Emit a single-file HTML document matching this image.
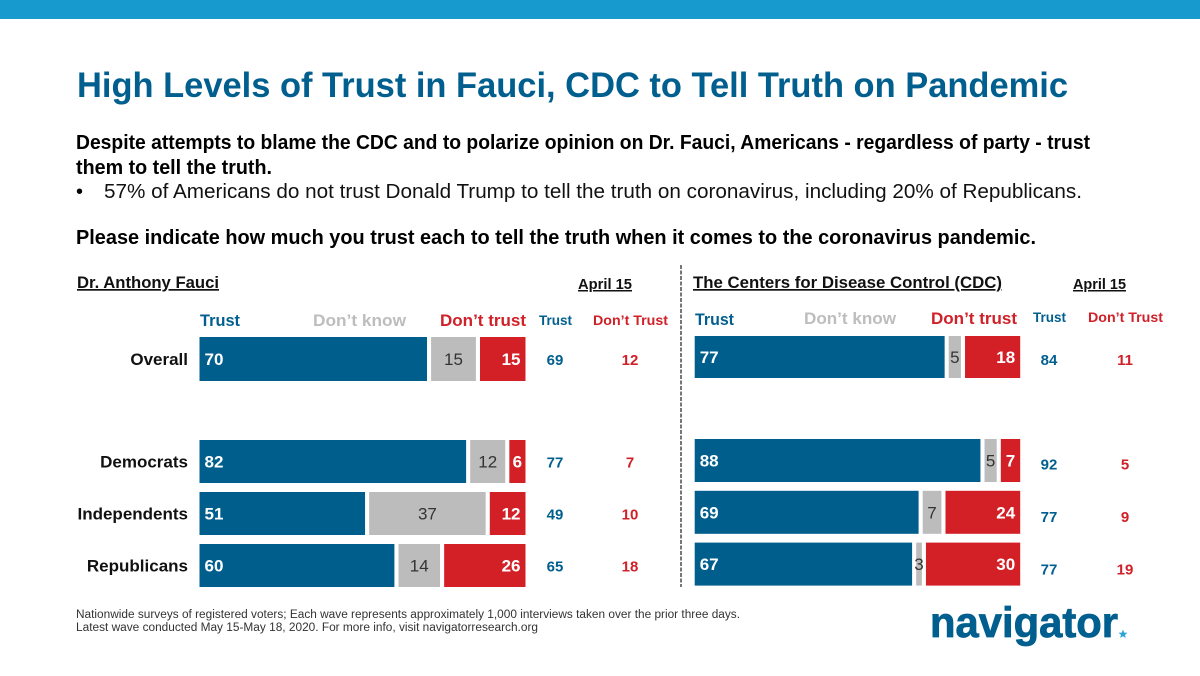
<!DOCTYPE html>
<html lang="en">
<head>
<meta charset="utf-8">
<title>High Levels of Trust in Fauci, CDC to Tell Truth on Pandemic</title>
<style>
html,body{margin:0;padding:0;background:#fff;width:1200px;height:676px;overflow:hidden}
svg{display:block;font-family:"Liberation Sans",sans-serif}
</style>
</head>
<body>
<svg id="chart" width="1200" height="676" viewBox="0 0 1200 676" xmlns="http://www.w3.org/2000/svg">
<rect x="0" y="0" width="1200" height="19" fill="#179ACD"/>
<text x="77" y="97" font-size="35" font-weight="700" fill="#005F8E" textLength="991" lengthAdjust="spacingAndGlyphs">High Levels of Trust in Fauci, CDC to Tell Truth on Pandemic</text>
<text x="76" y="149" font-size="20" font-weight="700" fill="#000" textLength="1014" lengthAdjust="spacingAndGlyphs">Despite attempts to blame the CDC and to polarize opinion on Dr. Fauci, Americans - regardless of party - trust</text>
<text x="76" y="174" font-size="20" font-weight="700" fill="#000" textLength="196" lengthAdjust="spacingAndGlyphs">them to tell the truth.</text>
<text x="76" y="198" font-size="20" fill="#000">•</text>
<text x="104" y="198" font-size="20" fill="#111" textLength="978" lengthAdjust="spacingAndGlyphs">57% of Americans do not trust Donald Trump to tell the truth on coronavirus, including 20% of Republicans.</text>
<text x="76" y="244" font-size="20" font-weight="700" fill="#000" textLength="960" lengthAdjust="spacingAndGlyphs">Please indicate how much you trust each to tell the truth when it comes to the coronavirus pandemic.</text>

<line x1="681" y1="265" x2="681" y2="587" stroke="#777" stroke-width="2" stroke-dasharray="4 1.5"/>

<text x="77" y="288" font-size="17" font-weight="700" fill="#111" text-decoration="underline" textLength="142" lengthAdjust="spacingAndGlyphs">Dr. Anthony Fauci</text>
<text x="578" y="289" font-size="15" font-weight="700" fill="#111" text-decoration="underline" textLength="54" lengthAdjust="spacingAndGlyphs">April 15</text>
<text x="200" y="326" font-size="17" font-weight="700" fill="#005F8E" textLength="40" lengthAdjust="spacingAndGlyphs">Trust</text>
<text x="313" y="326" font-size="17" font-weight="700" fill="#BDBDBD" textLength="93" lengthAdjust="spacingAndGlyphs">Don’t know</text>
<text x="440" y="326" font-size="17" font-weight="700" fill="#D02028" textLength="86" lengthAdjust="spacingAndGlyphs">Don’t trust</text>
<text x="539" y="325" font-size="14" font-weight="700" fill="#005F8E" textLength="33" lengthAdjust="spacingAndGlyphs">Trust</text>
<text x="593" y="325" font-size="14" font-weight="700" fill="#D02028" textLength="75" lengthAdjust="spacingAndGlyphs">Don’t Trust</text>

<text x="693" y="288" font-size="17" font-weight="700" fill="#111" text-decoration="underline" textLength="309" lengthAdjust="spacingAndGlyphs">The Centers for Disease Control (CDC)</text>
<text x="1073" y="289" font-size="15" font-weight="700" fill="#111" text-decoration="underline" textLength="53" lengthAdjust="spacingAndGlyphs">April 15</text>
<text x="695" y="325" font-size="17" font-weight="700" fill="#005F8E" textLength="39" lengthAdjust="spacingAndGlyphs">Trust</text>
<text x="804" y="324" font-size="17" font-weight="700" fill="#BDBDBD" textLength="92" lengthAdjust="spacingAndGlyphs">Don’t know</text>
<text x="931" y="324" font-size="17" font-weight="700" fill="#D02028" textLength="86" lengthAdjust="spacingAndGlyphs">Don’t trust</text>
<text x="1033" y="322" font-size="14" font-weight="700" fill="#005F8E" textLength="33" lengthAdjust="spacingAndGlyphs">Trust</text>
<text x="1088" y="322" font-size="14" font-weight="700" fill="#D02028" textLength="75" lengthAdjust="spacingAndGlyphs">Don’t Trust</text>

<g id="marks"></g>

<text x="76" y="618" font-size="11.5" fill="#333" textLength="664" lengthAdjust="spacingAndGlyphs">Nationwide surveys of registered voters; Each wave represents approximately 1,000 interviews taken over the prior three days.</text>
<text x="76" y="631" font-size="11.5" fill="#333" textLength="462" lengthAdjust="spacingAndGlyphs">Latest wave conducted May 15-May 18, 2020. For more info, visit navigatorresearch.org</text>
<text x="930" y="637" font-size="43" font-weight="700" fill="#005F8E" stroke="#005F8E" stroke-width="0.8" textLength="188" lengthAdjust="spacingAndGlyphs">navigator</text>
<polygon points="1123,629.5 1124.2,632.6 1127.5,632.8 1125,634.9 1125.8,638 1123,636.3 1120.2,638 1121,634.9 1118.5,632.8 1121.8,632.6" fill="#2BA6D6"/>
</svg>
<script>
const categories = ['Overall', 'Democrats', 'Independents', 'Republicans'];
const fauciTrust = [70, 82, 51, 60];
const fauciDontKnow = [15, 12, 37, 14];
const fauciDontTrust = [15, 6, 12, 26];
const fauciAprilTrust = [69, 77, 49, 65];
const fauciAprilDontTrust = [12, 7, 10, 18];
const cdcTrust = [77, 88, 69, 67];
const cdcDontKnow = [5, 5, 7, 3];
const cdcDontTrust = [18, 7, 24, 30];
const cdcAprilTrust = [84, 92, 77, 77];
const cdcAprilDontTrust = [11, 5, 9, 19];

const NS = 'http://www.w3.org/2000/svg';
const marks = document.getElementById('marks');
const BLUE = '#005E8C', GRAY = '#BCBCBC', RED = '#D32027';

function addRect(x, y, w, h, fill) {
  const el = document.createElementNS(NS, 'rect');
  el.setAttribute('x', x);
  el.setAttribute('y', y);
  el.setAttribute('width', Math.max(w, 0));
  el.setAttribute('height', h);
  el.setAttribute('fill', fill);
  marks.appendChild(el);
  return el;
}
function addText(str, x, y, size, weight, fill, anchor) {
  const el = document.createElementNS(NS, 'text');
  el.textContent = str;
  el.setAttribute('x', x);
  el.setAttribute('y', y);
  el.setAttribute('font-size', size);
  el.setAttribute('font-weight', weight);
  el.setAttribute('fill', fill);
  el.setAttribute('text-anchor', anchor);
  marks.appendChild(el);
  return el;
}
function drawPanel(prefix, p, trust, dontKnow, dontTrust, aprilTrust, aprilDontTrust) {
  const xScale = v => p.x0 + v * p.unit;
  const rowTop = i => i === 0 ? p.top0 : p.top1 + (i - 1) * p.step;
  const rowHeight = i => i === 0 ? p.h0 : p.h1;
  categories.forEach((cat, i) => {
    const top = rowTop(i), h = rowHeight(i), mid = top + h / 2;
    const a = trust[i], b = dontKnow[i], c = dontTrust[i];
    const textY = mid + 6;

    const blue = addRect(xScale(0), top, xScale(a) - 0.7 - xScale(0), h, BLUE);
    
    
    const gray = addRect(xScale(a) + 3.4, top, xScale(a + b) - 0.7 - xScale(a) - 3.4, h, GRAY);
    
    
    const red = addRect(xScale(a + b) + 3.4, top, xScale(a + b + c) - xScale(a + b) - 3.4, h, RED);
    
    

    const t1 = addText(String(a), xScale(0) + p.pad, textY, 17, 700, '#fff', 'start');
    
    
    const t2 = addText(String(b), (xScale(a) + 3.4 + xScale(a + b) - 0.7) / 2, textY, 17, 400, '#333', 'middle');
    
    
    const small = c < 10;
    const t3 = addText(String(c),
      small ? (xScale(a + b) + 3.4 + xScale(a + b + c)) / 2 : xScale(a + b + c) - 5,
      textY, 17, 700, '#fff', small ? 'middle' : 'end');
    
    

    const aprilY = mid + p.aprilShift + i * p.aprilDrift + 5;
    const t4 = addText(String(aprilTrust[i]), p.aprilTrustX, aprilY, 15, 700, '#005F8E', 'middle');
    
    
    const t5 = addText(String(aprilDontTrust[i]), p.aprilDontTrustX, aprilY, 15, 700, '#D02028', 'middle');
    
    

    if (p.showCategories) {
      const lab = addText(cat, 188, textY, 17, 700, '#111', 'end');
      
      
    }
  });
}
drawPanel('fauci',
  {x0: 199.5, unit: 3.26, top0: 337, h0: 44, top1: 440, h1: 43, step: 52, pad: 5,
   aprilShift: 1, aprilDrift: 0, aprilTrustX: 555, aprilDontTrustX: 630, showCategories: true},
  fauciTrust, fauciDontKnow, fauciDontTrust, fauciAprilTrust, fauciAprilDontTrust);
drawPanel('cdc',
  {x0: 694.7, unit: 3.255, top0: 336, h0: 42, top1: 439, h1: 43, step: 51.8, pad: 5,
   aprilShift: 3, aprilDrift: 0.8, aprilTrustX: 1049, aprilDontTrustX: 1125, showCategories: false},
  cdcTrust, cdcDontKnow, cdcDontTrust, cdcAprilTrust, cdcAprilDontTrust);
</script>
</body>
</html>
